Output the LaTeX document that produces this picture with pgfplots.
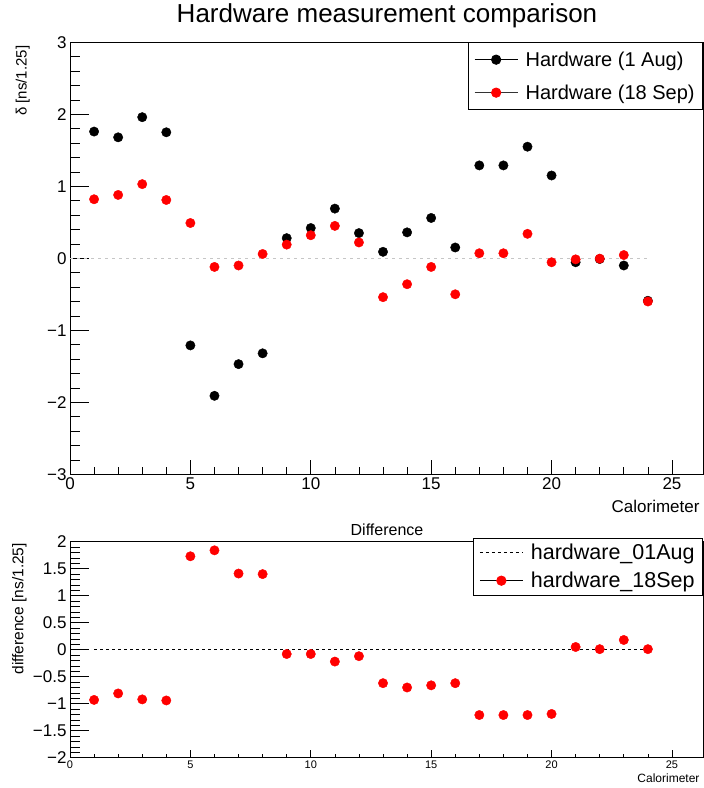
\documentclass[border=0pt]{standalone}
\usepackage{pgfplots}
\pgfplotsset{compat=1.18}
\usepackage{fontspec}
\setmainfont{Liberation Sans}
\newcommand\fs[1]{\fontsize{#1bp}{#1bp}\selectfont}
\pgfplotstableread{
x black red
1 1.76 0.82
2 1.68 0.88
3 1.96 1.03
4 1.75 0.81
5 -1.21 0.49
6 -1.91 -0.12
7 -1.47 -0.10
8 -1.32 0.06
9 0.28 0.19
10 0.42 0.32
11 0.69 0.45
12 0.35 0.22
13 0.09 -0.54
14 0.36 -0.36
15 0.56 -0.12
16 0.15 -0.50
17 1.29 0.07
18 1.29 0.07
19 1.55 0.34
20 1.15 -0.055
21 -0.055 -0.015
22 -0.01 -0.005
23 -0.10 0.045
24 -0.59 -0.60
}\topdata
\pgfplotstableread{
x diff
1 -0.93
2 -0.81
3 -0.92
4 -0.94
5 1.73
6 1.84
7 1.41
8 1.40
9 -0.08
10 -0.08
11 -0.22
12 -0.12
13 -0.62
14 -0.70
15 -0.66
16 -0.62
17 -1.21
18 -1.21
19 -1.21
20 -1.19
21 0.05
22 0.01
23 0.18
24 0.01
}\diffdata
\pgfplotsset{
  rootaxis/.style={
    scale only axis, width=633bp,
    xmin=0, xmax=26.29,
    xtick={0,5,...,25},
    minor x tick num=4, minor y tick num=4,
    tick align=inside, xtick pos=bottom, ytick pos=left,
    major tick length=19bp, minor tick length=10bp,
    tick style={black, line width=0.7bp},
    axis line style={line width=0.8bp},
    /pgf/number format/assume math mode=true,
    legend cell align=left,
  }
}
\begin{document}
\begin{tikzpicture}[x=1bp,y=1bp]
\useasboundingbox (0,0) rectangle (704,788);
\node[font=\fs{26}] at (387,772) {Hardware measurement comparison};
\begin{axis}[rootaxis,
  at={(70bp,313.7bp)}, anchor=south west, height=432bp,
  ymin=-3, ymax=3,
  xtick style={/pgfplots/major tick length=14bp, /pgfplots/minor tick length=7bp},
  ytick={-3,-2,-1,0,1,2,3}, yticklabels={−3,−2,−1,0,1,2,3},
  ticklabel style={font=\fs{17}},
  xlabel={Calorimeter},
  xlabel style={font=\fs{17}, at={(axis description cs:1,0)}, anchor=north east, yshift=-22bp},
  ylabel={δ [ns/1.25]},
  ylabel style={font=\fs{15}, at={(axis description cs:-0.058,1)}, anchor=south east},
  legend style={at={(1,1)}, anchor=north east, draw=black, line width=0.8bp,
    font=\fs{20}, inner xsep=6bp, inner ysep=7bp, row sep=13bp,
    /tikz/every even column/.append style={column sep=9bp}},
]
\addplot[gray!45, dash pattern=on 3bp off 4bp, line width=1.3bp, forget plot] coordinates {(0,0) (24,0)};
\addplot[only marks, mark=*, mark size=4.7bp, black,
  legend image code/.code={\path[draw=none,fill=none] (0bp,0bp) -- (49bp,0bp); \draw[black,line width=0.8bp] (0bp,0bp)--(43bp,0bp); \fill[black] (21.5bp,0bp) circle (4.7bp);}]
  table[x=x,y=black] {\topdata};
\addlegendentry{Hardware (1 Aug)}
\addplot[only marks, mark=*, mark size=4.7bp, red,
  legend image code/.code={\path[draw=none,fill=none] (0bp,0bp) -- (49bp,0bp); \draw[black!80,line width=0.8bp] (0bp,0bp)--(43bp,0bp); \fill[red] (21.5bp,0bp) circle (4.7bp);}]
  table[x=x,y=red] {\topdata};
\addlegendentry{Hardware (18 Sep)}
\end{axis}
\node[font=\fs{16}] at (387,258) {Difference};
\begin{axis}[rootaxis,
  at={(70bp,30.3bp)}, anchor=south west, height=216bp,
  ymin=-2, ymax=2,
  xtick style={/pgfplots/major tick length=8bp, /pgfplots/minor tick length=4bp},
  ytick={-2,-1.5,-1,-0.5,0,0.5,1,1.5,2},
  yticklabels={−2,−1.5,−1,−0.5,0,0.5,1,1.5,2},
  xticklabel style={font=\fs{11}},
  yticklabel style={font=\fs{17}},
  xlabel={Calorimeter},
  xlabel style={font=\fs{12}, at={(axis description cs:1,0)}, anchor=north east, yshift=-13bp},
  ylabel={difference [ns/1.25]},
  ylabel style={font=\fs{15.5}, at={(axis description cs:-0.063,1.01)}, anchor=south east},
  legend style={at={(1,1.0185)}, anchor=north east, draw=black, line width=0.8bp,
    font=\fs{21.5}, inner xsep=6bp, inner ysep=4bp, row sep=7bp,
    /tikz/every even column/.append style={column sep=9bp}},
]
\addplot[black, dash pattern=on 3bp off 3bp, line width=0.8bp,
  legend image code/.code={\path[draw=none,fill=none] (0bp,0bp) -- (49bp,0bp); \draw[black,line width=0.8bp,dash pattern=on 3bp off 3bp] (0bp,0bp)--(43bp,0bp);}]
  coordinates {(1,0) (24,0)};
\addlegendentry{hardware\_01Aug}
\addplot[only marks, mark=*, mark size=4.7bp, red,
  legend image code/.code={\path[draw=none,fill=none] (0bp,0bp) -- (49bp,0bp); \draw[black,line width=0.8bp] (0bp,0bp)--(43bp,0bp); \fill[red] (21.5bp,0bp) circle (4.7bp);}]
  table[x=x,y=diff] {\diffdata};
\addlegendentry{hardware\_18Sep}
\end{axis}
\end{tikzpicture}
\end{document}
